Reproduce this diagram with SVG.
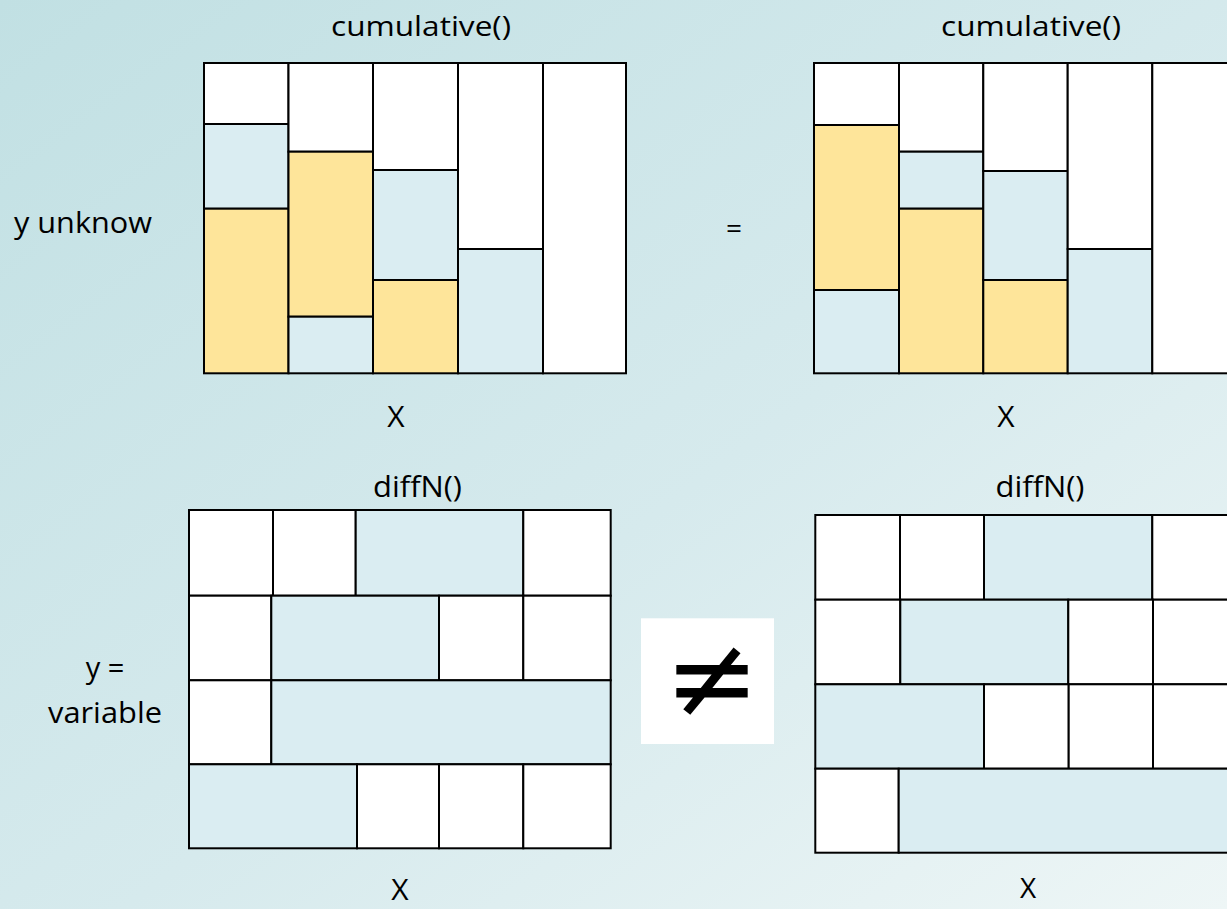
<svg xmlns="http://www.w3.org/2000/svg" width="1227" height="909" viewBox="0 0 1227 909">
<defs>
<linearGradient id="bg" x1="0" y1="0" x2="1" y2="1">
<stop offset="0" stop-color="#c1e0e3"/>
<stop offset="0.55" stop-color="#d6eaed"/>
<stop offset="1" stop-color="#eef6f6"/>
</linearGradient>
</defs>
<style>
.w{fill:#ffffff;stroke:#000;stroke-width:2}
.b{fill:#daedf2;stroke:#000;stroke-width:2}
.y{fill:#fee59a;stroke:#000;stroke-width:2}
.t{font-family:"Open Sans","Liberation Sans",sans-serif;font-size:28px;fill:#000}
.m{text-anchor:middle}
</style>
<rect x="0" y="0" width="1227" height="909" fill="url(#bg)"/>

<g id="labels">
<text class="t m" x="421" y="36" textLength="180" lengthAdjust="spacingAndGlyphs">cumulative()</text>
<text class="t m" x="1031" y="36" textLength="180" lengthAdjust="spacingAndGlyphs">cumulative()</text>
<text class="t" x="14" y="233" textLength="138" lengthAdjust="spacingAndGlyphs" style="font-size:30px">y unknow</text>
<text class="t m" x="734" y="238">=</text>
<text class="t m" x="396" y="427" style="font-size:30px">X</text>
<text class="t m" x="1006" y="427" style="font-size:30px">X</text>
<text class="t m" x="417.5" y="497" textLength="89" lengthAdjust="spacingAndGlyphs" style="font-size:29px">diffN()</text>
<text class="t m" x="1040" y="497" textLength="89" lengthAdjust="spacingAndGlyphs" style="font-size:29px">diffN()</text>
<text class="t m" x="105" y="678" style="font-size:29px">y =</text>
<text class="t m" x="105" y="723" textLength="114" lengthAdjust="spacingAndGlyphs" style="font-size:29px">variable</text>
<text class="t m" x="400" y="900" style="font-size:30px">X</text>
<text class="t m" x="1028" y="898" style="font-size:28px">X</text>
</g>

<g id="cumulative-left">
<rect class="w" x="204" y="63" width="84.5" height="61"/>
<rect class="b" x="204" y="124" width="84.5" height="84.7"/>
<rect class="y" x="204" y="208.7" width="84.5" height="164.6"/>
<rect class="w" x="288.5" y="63" width="84.5" height="88.7"/>
<rect class="y" x="288.5" y="151.7" width="84.5" height="165"/>
<rect class="b" x="288.5" y="316.7" width="84.5" height="56.6"/>
<rect class="w" x="373" y="63" width="85" height="107"/>
<rect class="b" x="373" y="170" width="85" height="110"/>
<rect class="y" x="373" y="280" width="85" height="93.3"/>
<rect class="w" x="458" y="63" width="85" height="186"/>
<rect class="b" x="458" y="249" width="85" height="124.3"/>
<rect class="w" x="543" y="63" width="83" height="310.3"/>
</g>

<g id="cumulative-right">
<rect class="w" x="814" y="63" width="85" height="62"/>
<rect class="y" x="814" y="125" width="85" height="165"/>
<rect class="b" x="814" y="290" width="85" height="83.3"/>
<rect class="w" x="899" y="63" width="84.3" height="88.7"/>
<rect class="b" x="899" y="151.7" width="84.3" height="57"/>
<rect class="y" x="899" y="208.7" width="84.3" height="164.6"/>
<rect class="w" x="983.3" y="63" width="84.4" height="108"/>
<rect class="b" x="983.3" y="171" width="84.4" height="109"/>
<rect class="y" x="983.3" y="280" width="84.4" height="93.3"/>
<rect class="w" x="1067.7" y="63" width="84.6" height="186"/>
<rect class="b" x="1067.7" y="249" width="84.6" height="124.3"/>
<rect class="w" x="1152.3" y="63" width="84.7" height="310.3"/>
</g>

<g id="diffn-left">
<rect class="w" x="189" y="510" width="84" height="85.7"/>
<rect class="w" x="273" y="510" width="82.7" height="85.7"/>
<rect class="b" x="355.7" y="510" width="167.6" height="85.7"/>
<rect class="w" x="523.3" y="510" width="87.4" height="85.7"/>
<rect class="w" x="189" y="595.7" width="82.3" height="84.6"/>
<rect class="b" x="271.3" y="595.7" width="167.7" height="84.6"/>
<rect class="w" x="439" y="595.7" width="84.3" height="84.6"/>
<rect class="w" x="523.3" y="595.7" width="87.4" height="84.6"/>
<rect class="w" x="189" y="680.3" width="82.3" height="84"/>
<rect class="b" x="271.3" y="680.3" width="339.4" height="84"/>
<rect class="b" x="189" y="764.3" width="168" height="84"/>
<rect class="w" x="357" y="764.3" width="82" height="84"/>
<rect class="w" x="439" y="764.3" width="84.3" height="84"/>
<rect class="w" x="523.3" y="764.3" width="87.4" height="84"/>
</g>

<g id="diffn-right">
<rect class="w" x="815.3" y="515" width="84.7" height="84.7"/>
<rect class="w" x="900" y="515" width="84" height="84.7"/>
<rect class="b" x="984" y="515" width="168.3" height="84.7"/>
<rect class="w" x="1152.3" y="515" width="84.7" height="84.7"/>
<rect class="w" x="815.3" y="599.7" width="85" height="84.6"/>
<rect class="b" x="900.3" y="599.7" width="168" height="84.6"/>
<rect class="w" x="1068.3" y="599.7" width="84.7" height="84.6"/>
<rect class="w" x="1153" y="599.7" width="84" height="84.6"/>
<rect class="b" x="815.3" y="684.3" width="168.7" height="84.4"/>
<rect class="w" x="984" y="684.3" width="84.7" height="84.4"/>
<rect class="w" x="1068.7" y="684.3" width="84.3" height="84.4"/>
<rect class="w" x="1153" y="684.3" width="84" height="84.4"/>
<rect class="w" x="815.3" y="768.7" width="83.4" height="84"/>
<rect class="b" x="898.7" y="768.7" width="338.3" height="84"/>
</g>

<g id="not-equal">
<rect x="641" y="618.3" width="133" height="125.7" fill="#ffffff"/>
<text x="712" y="717" text-anchor="middle" style="font-family:'DejaVu Sans',sans-serif;font-size:114px;fill:#000">≠</text>
</g>
</svg>
